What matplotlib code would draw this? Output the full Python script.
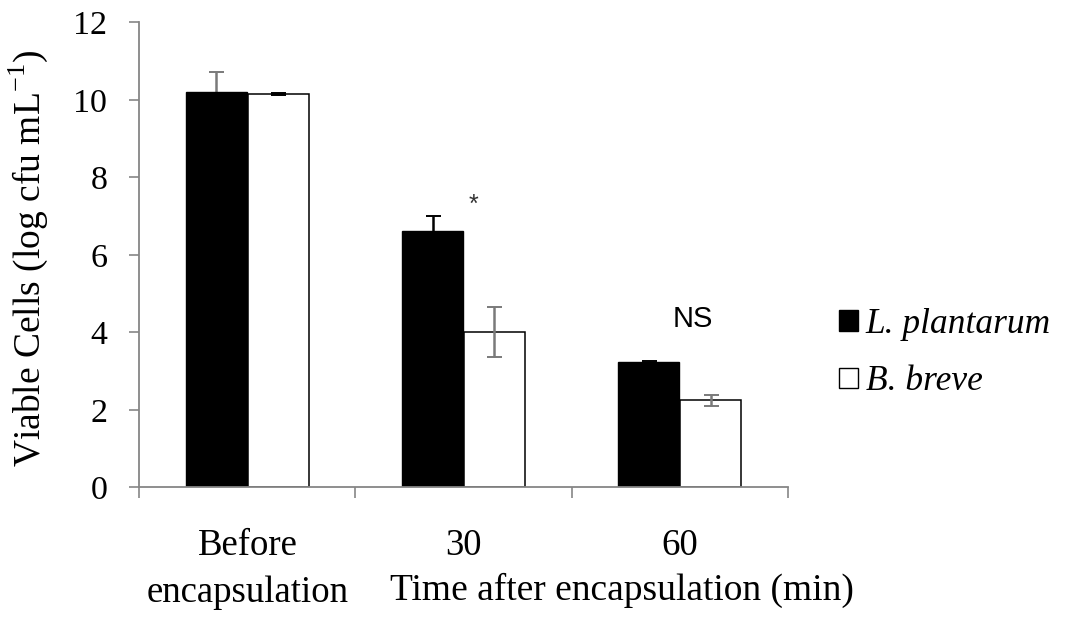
import matplotlib
matplotlib.use('Agg')
import matplotlib.pyplot as plt
from matplotlib.patches import Rectangle
import numpy as np

# data
categories = ['Before\nencapsulation', '30', '60']
plantarum = [10.21, 6.62, 3.24]
plantarum_err = [0.52, 0.38, 0.03]
breve = [10.15, 4.00, 2.24]
breve_err = [0.02, 0.64, 0.15]
marks = ['', '*', 'NS']
mark_y = [0, 7.3, 4.34]

plt.rcParams['font.family'] = 'Liberation Serif'
plt.rcParams['mathtext.fontset'] = 'custom'
plt.rcParams['mathtext.rm'] = 'Liberation Serif'

axis_grey = '#868686'

fig = plt.figure(figsize=(10.67, 6.21), dpi=100)
ax = fig.add_axes([0.1306, 0.2153, 0.6076, 0.7488])

x = np.arange(len(categories))
w = 0.285
off = 0.143

ax.bar(x - off, plantarum, w, color='black', edgecolor='black', linewidth=1.0, zorder=2)
ax.bar(x + off, breve, w, color='white', edgecolor='black', linewidth=1.1, zorder=2)

# error bars, colours differ from bar to bar in the original
col_p = ['#7a7a7a', '#000000', '#000000']
col_b = ['#000000', '#7a7a7a', '#7a7a7a']
for i in range(len(categories)):
    ax.errorbar(x[i] - off, plantarum[i], yerr=plantarum_err[i], fmt='none',
                ecolor=col_p[i], elinewidth=1.8, capsize=5.4, capthick=1.4, zorder=1)
    ax.errorbar(x[i] + off, breve[i], yerr=breve_err[i], fmt='none',
                ecolor=col_b[i], elinewidth=1.8, capsize=5.4, capthick=1.4, zorder=3)

# significance marks
ax.text(1.045, mark_y[1], marks[1], ha='center', va='center', fontsize=18,
        family='Liberation Sans', color='#333333')
ax.text(2.063, mark_y[2], marks[2], ha='center', va='center', fontsize=21,
        family='Liberation Sans')

ax.set_xlim(-0.5, 2.5)
ax.set_ylim(0, 12)
ax.set_yticks(range(0, 13, 2))
ax.tick_params(axis='y', direction='out', length=7.2, width=1.2, color=axis_grey,
               labelsize=24.5, pad=16)

# tick marks between the categories, labels in the middle
ax.set_xticks([-0.5, 0.5, 1.5, 2.5])
ax.set_xticklabels([])
ax.set_xticks(x, minor=True)
ax.set_xticklabels(categories, minor=True)
ax.tick_params(axis='x', which='major', direction='out', length=8, width=1.2, color=axis_grey)
ax.tick_params(axis='x', which='minor', length=0, labelsize=26.5, pad=30)
for lab in ax.get_xticklabels(minor=True):
    lab.set_linespacing(1.47)

for s in ['top', 'right']:
    ax.spines[s].set_visible(False)
for s in ['left', 'bottom']:
    ax.spines[s].set_color(axis_grey)
    ax.spines[s].set_linewidth(1.3)

fig.text(0.5825, 0.0338, 'Time after encapsulation (min)', ha='center', va='baseline', fontsize=27)
fig.text(0.0267, 0.5837, 'Viable Cells (log cfu mL$^{-1}$)', rotation=90,
         ha='center', va='center', fontsize=27)

handles = [Rectangle((0, 0), 1, 1, facecolor='black', edgecolor='black', linewidth=1),
           Rectangle((0, 0), 1, 1, facecolor='white', edgecolor='black', linewidth=1)]
leg = fig.legend(handles, ['L. plantarum', 'B. breve'], loc='upper left',
                 bbox_to_anchor=(0.770, 0.532), frameon=False, borderpad=0,
                 handlelength=0.52, handleheight=0.52, handletextpad=0.22,
                 labelspacing=0.68, prop={'family': 'Liberation Serif', 'style': 'italic', 'size': 25.5})

fig.savefig('out.png', dpi=100)
